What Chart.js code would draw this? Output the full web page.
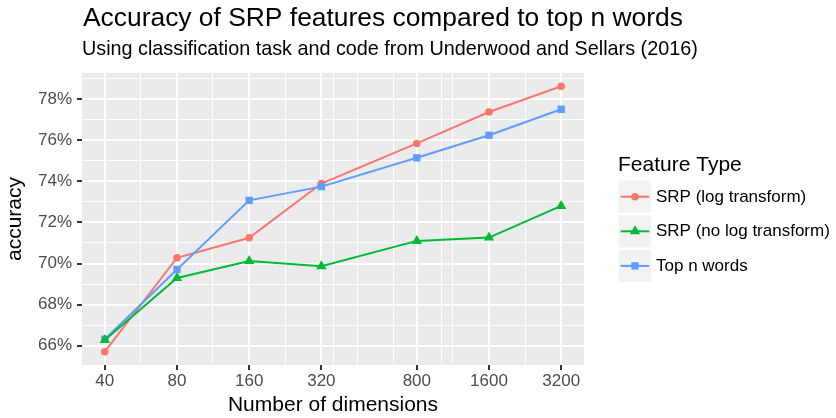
<!DOCTYPE html>
<html>
<head>
<meta charset="utf-8">
<script src="https://cdn.jsdelivr.net/npm/chart.js@4.4.0/dist/chart.umd.min.js"></script>
<style>
  body { margin: 0; background: #fff; }
  canvas { display: block; }
</style>
</head>
<body>
<canvas id="chart" width="836" height="418"></canvas>
<script>
const dims = [40, 80, 160, 320, 800, 1600, 3200];
const srpLog = [65.71, 70.28, 71.25, 73.89, 75.84, 77.37, 78.62];
const srpNoLog = [66.28, 69.3, 70.12, 69.87, 71.1, 71.26, 72.8];
const topWords = [66.32, 69.71, 73.07, 73.74, 75.14, 76.24, 77.5];

const seriesNames = ["SRP (log transform)", "SRP (no log transform)", "Top n words"];
const seriesColors = ["#F8766D", "#00BA38", "#619CFF"];

// minor grid breaks as they appear in the original plot
const xMinor = [56.6, 113, 226, 360, 452, 640, 1011, 1131, 2263];
const yMajor = [66, 68, 70, 72, 74, 76, 78];
const yMinor = [65, 67, 69, 71, 73, 75, 77, 79];

const FONT = "'Liberation Sans', Arial, Helvetica, sans-serif";
Chart.defaults.font.family = FONT;

// ggplot style 5% expansion
const allY = srpLog.concat(srpNoLog, topWords);
const yLo = Math.min(...allY), yHi = Math.max(...allY);
const yPad = (yHi - yLo) * 0.05;
const xLo = Math.log10(dims[0]), xHi = Math.log10(dims[dims.length - 1]);
const xPad = (xHi - xLo) * 0.05;

function toPoints(values) {
  return dims.map((d, i) => ({ x: d, y: values[i] }));
}

const datasets = [
  { label: seriesNames[0], data: toPoints(srpLog), pointStyle: "circle", pointRadius: 3.8, order: 2 },
  { label: seriesNames[1], data: toPoints(srpNoLog), pointStyle: "triangle", pointRadius: 6, order: 0 },
  { label: seriesNames[2], data: toPoints(topWords), pointStyle: "rect", pointRadius: 5.2, order: 1 }
].map((ds, i) => Object.assign(ds, {
  borderColor: seriesColors[i],
  backgroundColor: seriesColors[i],
  pointBackgroundColor: seriesColors[i],
  pointBorderWidth: 0,
  pointHoverRadius: ds.pointRadius,
  borderWidth: 2,
  tension: 0
}));

const panelBg = {
  id: "panelBg",
  beforeDraw(chart) {
    const { ctx, chartArea: a } = chart;
    ctx.save();
    ctx.fillStyle = "#fff";
    ctx.fillRect(0, 0, chart.width, chart.height);
    ctx.fillStyle = "#EBEBEB";
    ctx.fillRect(a.left, a.top, a.right - a.left, a.bottom - a.top);
    ctx.restore();
  }
};

const titlesAndLegend = {
  id: "titlesAndLegend",
  afterDraw(chart) {
    const ctx = chart.ctx;
    ctx.save();
    ctx.fillStyle = "#000";
    ctx.textAlign = "left";
    ctx.textBaseline = "alphabetic";
    ctx.font = "26.4px " + FONT;
    ctx.fillText("Accuracy of SRP features compared to top n words", 83, 26);
    ctx.font = "19.8px " + FONT;
    ctx.fillText("Using classification task and code from Underwood and Sellars (2016)", 82, 55);

    // legend
    ctx.font = "21px " + FONT;
    ctx.fillText("Feature Type", 618, 171);
    const keyX = 619, keyTop = 180.7, keySize = 32, pitch = 34.6;
    chart.data.datasets.forEach((ds, i) => {
      const top = keyTop + i * pitch;
      const cy = top + keySize / 2;
      ctx.fillStyle = "#F2F2F2";
      ctx.fillRect(keyX, top, keySize, keySize);
      ctx.strokeStyle = ds.borderColor;
      ctx.lineWidth = ds.borderWidth;
      ctx.beginPath();
      ctx.moveTo(keyX + 1.7, cy);
      ctx.lineTo(keyX + keySize - 1.7, cy);
      ctx.stroke();
      ctx.fillStyle = ds.pointBackgroundColor;
      Chart.helpers.drawPoint(ctx, { pointStyle: ds.pointStyle, radius: ds.pointRadius, borderWidth: 0, rotation: 0 }, keyX + keySize / 2, cy);
      ctx.fillStyle = "#000";
      ctx.font = "17px " + FONT;
      ctx.textBaseline = "middle";
      ctx.fillText(ds.label, 656, cy + 0.5);
      ctx.textBaseline = "alphabetic";
    });
    ctx.restore();
  }
};

new Chart(document.getElementById("chart"), {
  type: "line",
  data: { datasets },
  plugins: [panelBg, titlesAndLegend],
  options: {
    responsive: false,
    animation: false,
    devicePixelRatio: 1,
    layout: { padding: { top: 73, right: 252, left: 0, bottom: 0 } },
    plugins: {
      legend: { display: false },
      title: { display: false },
      tooltip: { enabled: false }
    },
    scales: {
      x: {
        type: "logarithmic",
        position: "bottom",
        min: Math.pow(10, xLo - xPad),
        max: Math.pow(10, xHi + xPad),
        afterBuildTicks(scale) {
          scale.ticks = dims.concat(xMinor).sort((a, b) => a - b).map(v => ({ value: v }));
        },
        afterFit(scale) { scale.height = 53; },
        border: { display: false },
        grid: {
          color: "#FFFFFF",
          lineWidth: c => dims.includes(c.tick.value) ? 2 : 1,
          tickColor: c => dims.includes(c.tick.value) ? "#333333" : "rgba(0,0,0,0)",
          tickLength: 5,
          tickWidth: 2
        },
        ticks: {
          autoSkip: false,
          maxRotation: 0,
          padding: 1,
          color: "#4D4D4D",
          font: { size: 17 },
          callback: v => dims.includes(v) ? String(v) : ""
        },
        title: {
          display: true,
          text: "Number of dimensions",
          color: "#000",
          font: { size: 21 },
          padding: { top: 0, bottom: 0 }
        }
      },
      y: {
        type: "linear",
        min: yLo - yPad,
        max: yHi + yPad,
        afterBuildTicks(scale) {
          scale.ticks = yMajor.concat(yMinor)
            .filter(v => v >= scale.min && v <= scale.max)
            .sort((a, b) => a - b)
            .map(v => ({ value: v }));
        },
        afterFit(scale) { scale.width = 82; },
        border: { display: false },
        grid: {
          color: "#FFFFFF",
          lineWidth: c => yMajor.includes(c.tick.value) ? 2 : 1,
          tickColor: c => yMajor.includes(c.tick.value) ? "#333333" : "rgba(0,0,0,0)",
          tickLength: 5,
          tickWidth: 2
        },
        ticks: {
          autoSkip: false,
          padding: 5,
          color: "#4D4D4D",
          font: { size: 17 },
          callback: v => yMajor.includes(v) ? v + "%" : ""
        },
        title: {
          display: true,
          text: "accuracy",
          color: "#000",
          font: { size: 21 },
          padding: { top: 3, bottom: 0 }
        }
      }
    }
  }
});
</script>
</body>
</html>
